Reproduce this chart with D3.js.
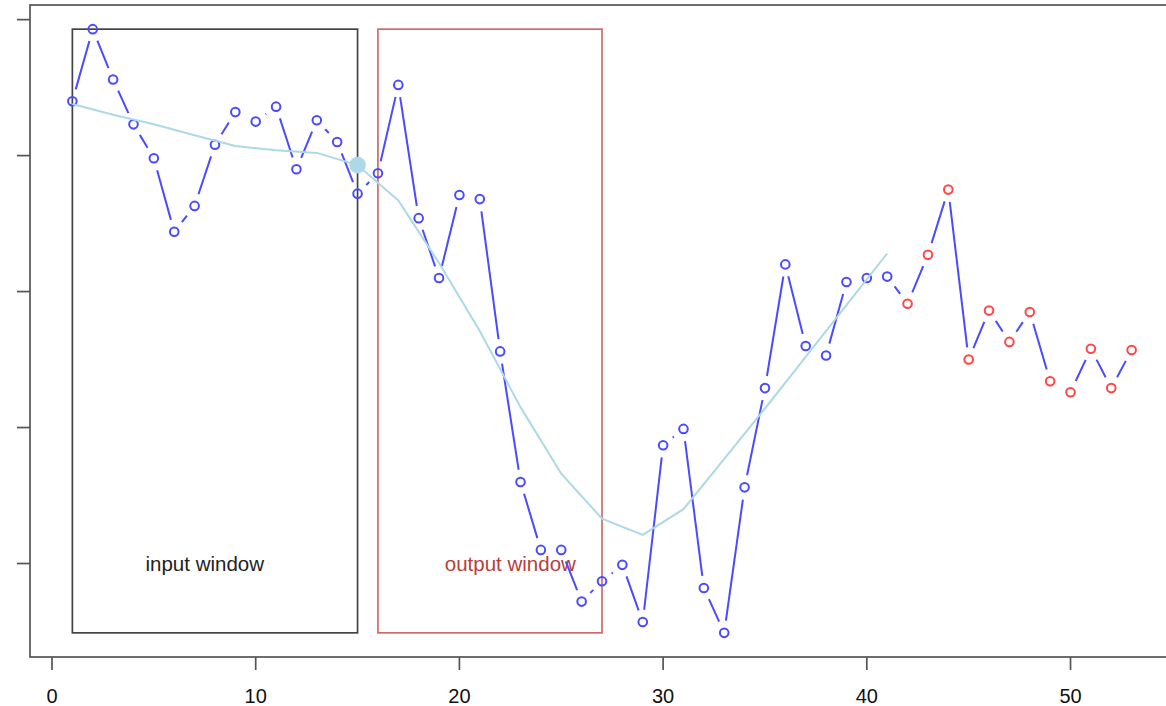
<!DOCTYPE html>
<html>
<head>
<meta charset="utf-8">
<script src="https://cdn.jsdelivr.net/npm/d3@7"></script>
<style>
  html, body { margin: 0; padding: 0; background: #fff; }
  svg { display: block; font-family: "Liberation Sans", Arial, sans-serif; }
</style>
</head>
<body>
<svg id="chart" width="1166" height="706"></svg>
<script>
// Observed series (t = 1..53); the last 12 values are the forecast part
const observed = [
  3.40, 3.93, 3.56, 3.23, 2.98, 2.44, 2.63, 3.08, 3.32, 3.25,
  3.36, 2.90, 3.26, 3.10, 2.72, 2.87, 3.52, 2.54, 2.10, 2.71,
  2.68, 1.56, 0.60, 0.10, 0.10, -0.28, -0.13, -0.01, -0.43, 0.87,
  0.99, -0.18, -0.51, 0.56, 1.29, 2.20, 1.60, 1.53, 2.07, 2.10,
  2.11, 1.91, 2.27, 2.75, 1.50, 1.86, 1.63, 1.85, 1.34, 1.26,
  1.58, 1.29, 1.57
];
const inSampleCount = 41;

// Smoothed trend, sampled at odd t
const smoothT = [1, 3, 5, 7, 9, 11, 13, 15, 17, 19, 21, 23, 25, 27, 29, 31, 33, 35, 37, 39, 41];
const smoothV = [3.38, 3.30, 3.23, 3.15, 3.07, 3.04, 3.02, 2.93, 2.67, 2.21, 1.71, 1.15, 0.66, 0.33, 0.21, 0.40, 0.77, 1.14, 1.52, 1.90, 2.28];

// Window definitions
const windowNames = ["input window", "output window"];
const windowStart = [1, 16];
const windowEnd = [15, 27];
const windowLabelT = [7.5, 22.5];
const windowLabelV = [0, 0];

// Highlighted point on the trend
const markerT = 15;
const markerV = 2.93;

const xTicks = [0, 10, 20, 30, 40, 50];
const yTicks = [0, 1, 2, 3, 4];

const svg = d3.select("#chart");
const plotLeft = 30, plotTop = 5, plotBottom = 657, plotRight = 1174;

const tVals = observed.map((_, i) => i + 1);
const xExt = d3.extent(tVals), yExt = d3.extent(observed);
const xPad = (xExt[1] - xExt[0]) * 0.04, yPad = (yExt[1] - yExt[0]) * 0.04;

const x = d3.scaleLinear().domain([xExt[0] - xPad, xExt[1] + xPad]).range([plotLeft, plotRight]);
const y = d3.scaleLinear().domain([yExt[0] - yPad, yExt[1] + yPad]).range([plotBottom, plotTop]);

const frameColor = "#555";

// window rectangles and their labels
const winColors = ["#444", "#d06a6a"];
const winText = ["#222", "#b5403c"];
windowNames.forEach((name, k) => {
  svg.append("rect")
    .attr("x", x(windowStart[k]))
    .attr("y", y(yExt[1]))
    .attr("width", x(windowEnd[k]) - x(windowStart[k]))
    .attr("height", y(yExt[0]) - y(yExt[1]))
    .attr("fill", "none")
    .attr("stroke", winColors[k])
    .attr("stroke-width", 1.7);
  svg.append("text")
    .attr("x", x(windowLabelT[k]))
    .attr("y", y(windowLabelV[k]))
    .attr("dy", "0.35em")
    .attr("text-anchor", "middle")
    .attr("font-size", 20.5)
    .attr("fill", winText[k])
    .text(name);
});

// connecting segments with gaps around each point
const gap = 12.3;
const segs = [];
for (let i = 0; i < observed.length - 1; i++) {
  const x1 = x(tVals[i]), y1 = y(observed[i]);
  const x2 = x(tVals[i + 1]), y2 = y(observed[i + 1]);
  const len = Math.hypot(x2 - x1, y2 - y1);
  if (len <= 2 * gap) continue;
  const ux = (x2 - x1) / len, uy = (y2 - y1) / len;
  segs.push([x1 + ux * gap, y1 + uy * gap, x2 - ux * gap, y2 - uy * gap]);
}
svg.append("g").selectAll("line").data(segs).join("line")
  .attr("x1", d => d[0]).attr("y1", d => d[1])
  .attr("x2", d => d[2]).attr("y2", d => d[3])
  .attr("stroke", "#4a4aff")
  .attr("stroke-width", 2)
  .attr("stroke-linecap", "butt");

// points
svg.append("g").selectAll("circle").data(observed).join("circle")
  .attr("cx", (d, i) => x(tVals[i]))
  .attr("cy", d => y(d))
  .attr("r", 4.3)
  .attr("fill", "none")
  .attr("stroke", (d, i) => i < inSampleCount ? "#4a4aff" : "#ff4545")
  .attr("stroke-width", 2);

// smoothed trend
svg.append("path")
  .datum(smoothT.map((t, i) => [t, smoothV[i]]))
  .attr("d", d3.line().x(d => x(d[0])).y(d => y(d[1])))
  .attr("fill", "none")
  .attr("stroke", "#add8e6")
  .attr("stroke-width", 2);

svg.append("circle")
  .attr("cx", x(markerT))
  .attr("cy", y(markerV))
  .attr("r", 8.3)
  .attr("fill", "#add8e6");

// plot frame
svg.append("rect")
  .attr("x", plotLeft).attr("y", plotTop)
  .attr("width", plotRight - plotLeft).attr("height", plotBottom - plotTop)
  .attr("fill", "none")
  .attr("stroke", frameColor)
  .attr("stroke-width", 1.7);

// x axis
const gx = svg.append("g");
gx.selectAll("line").data(xTicks).join("line")
  .attr("x1", d => x(d)).attr("x2", d => x(d))
  .attr("y1", plotBottom).attr("y2", plotBottom + 13)
  .attr("stroke", frameColor).attr("stroke-width", 1.7);
gx.selectAll("text").data(xTicks).join("text")
  .attr("x", d => x(d))
  .attr("y", 703)
  .attr("text-anchor", "middle")
  .attr("font-size", 20)
  .attr("fill", "#111")
  .text(d => d);

// y axis ticks (labels fall outside the visible area)
svg.append("g").selectAll("line").data(yTicks).join("line")
  .attr("x1", plotLeft - 13).attr("x2", plotLeft)
  .attr("y1", d => y(d)).attr("y2", d => y(d))
  .attr("stroke", frameColor).attr("stroke-width", 1.7);
</script>
</body>
</html>
